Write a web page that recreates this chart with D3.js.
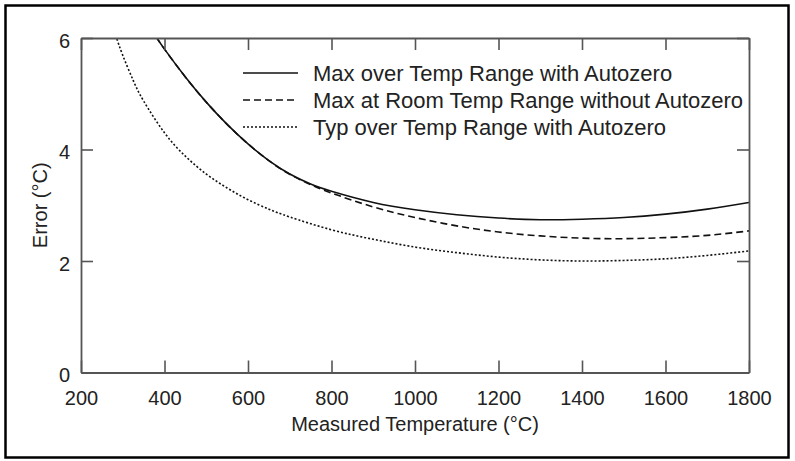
<!DOCTYPE html>
<html>
<head>
<meta charset="utf-8">
<script src="https://cdn.jsdelivr.net/npm/d3@7"></script>
<style>
  body { margin: 0; background: #fff; }
  svg { display: block; font-family: "Liberation Sans", Arial, sans-serif; }
</style>
</head>
<body>
<svg id="chart" width="795" height="461"></svg>
<script>
// temperatures (°C) and error values (°C)
const maxAutoX = [380, 400, 450, 500, 550, 600, 650, 700, 750, 800, 900, 1000, 1100, 1200, 1300, 1400, 1500, 1600, 1700, 1800]
const maxAutoY = [6.02, 5.80, 5.30, 4.85, 4.45, 4.10, 3.80, 3.56, 3.38, 3.25, 3.05, 2.92, 2.83, 2.77, 2.74, 2.75, 2.78, 2.84, 2.93, 3.05]
const maxRoomX = [380, 400, 450, 500, 550, 600, 650, 700, 750, 800, 900, 1000, 1100, 1200, 1300, 1400, 1500, 1600, 1700, 1800]
const maxRoomY = [6.02, 5.80, 5.30, 4.85, 4.45, 4.10, 3.80, 3.555, 3.37, 3.22, 2.97, 2.78, 2.63, 2.52, 2.45, 2.41, 2.40, 2.42, 2.46, 2.54]
const typAutoX = [283, 300, 325, 350, 400, 450, 500, 550, 600, 650, 700, 800, 900, 1000, 1100, 1200, 1300, 1400, 1500, 1600, 1700, 1800]
const typAutoY = [6.05, 5.69, 5.24, 4.87, 4.30, 3.88, 3.56, 3.31, 3.10, 2.93, 2.79, 2.56, 2.39, 2.25, 2.15, 2.07, 2.02, 2.00, 2.01, 2.04, 2.10, 2.18]

const xTicks = [200, 400, 600, 800, 1000, 1200, 1400, 1600, 1800]
const yTicks = [0, 2, 4, 6]

const seriesNames = [
  'Max over Temp Range with Autozero',
  'Max at Room Temp Range without Autozero',
  'Typ over Temp Range with Autozero'
]
const dashes = [null, '7,4', '2,2']

const svg = d3.select('#chart')
const plotLeft = 81, plotRight = 749, plotTop = 38, plotBottom = 372.5
const tickLen = 12

const x = d3.scaleLinear().domain([200, 1800]).range([plotLeft, plotRight])
const y = d3.scaleLinear().domain([0, 6]).range([plotBottom, plotTop])

// outer border
svg.append('rect')
    .attr('x', 5.5).attr('y', 5.5)
    .attr('width', 783).attr('height', 452)
    .attr('fill', 'none')
    .attr('stroke', '#000')
    .attr('stroke-width', 2.5)

svg.append('clipPath').attr('id', 'plotclip')
  .append('rect')
    .attr('x', plotLeft).attr('y', plotTop)
    .attr('width', plotRight - plotLeft).attr('height', plotBottom - plotTop)

const line = d3.line()
    .x(d => x(d[0]))
    .y(d => y(d[1]))
    .curve(d3.curveNatural)

const allSeries = [
  d3.zip(maxAutoX, maxAutoY),
  d3.zip(maxRoomX, maxRoomY),
  d3.zip(typAutoX, typAutoY)
]

svg.append('g')
    .attr('clip-path', 'url(#plotclip)')
  .selectAll('path.curve')
  .data(allSeries)
  .enter()
  .append('path')
    .attr('class', 'curve')
    .attr('d', line)
    .attr('fill', 'none')
    .attr('stroke', '#111')
    .attr('stroke-width', 1.6)
    .attr('stroke-dasharray', (d, i) => dashes[i])

// axes: ticks inside, mirrored on top and right
const frameColor = '#555'
const gBottom = svg.append('g').attr('transform', `translate(0,${plotBottom})`)
    .call(d3.axisBottom(x).tickValues(xTicks).tickFormat(d3.format('d'))
      .tickSizeInner(-tickLen).tickSizeOuter(0).tickPadding(18))
const gTop = svg.append('g').attr('transform', `translate(0,${plotTop})`)
    .call(d3.axisTop(x).tickValues(xTicks).tickSizeInner(-tickLen).tickSizeOuter(0).tickFormat(''))
const gLeft = svg.append('g').attr('transform', `translate(${plotLeft},0)`)
    .call(d3.axisLeft(y).tickValues(yTicks).tickFormat(d3.format('d'))
      .tickSizeInner(-tickLen).tickSizeOuter(0).tickPadding(11))
const gRight = svg.append('g').attr('transform', `translate(${plotRight},0)`)
    .call(d3.axisRight(y).tickValues(yTicks).tickSizeInner(-tickLen).tickSizeOuter(0).tickFormat(''))

;[gBottom, gTop, gLeft, gRight].forEach(g => {
  g.select('.domain').attr('stroke', frameColor).attr('stroke-width', 1.8)
  g.selectAll('.tick line').attr('stroke', frameColor).attr('stroke-width', 1.6)
  g.selectAll('.tick text')
      .attr('fill', '#222')
      .attr('font-size', 20)
      .attr('font-family', '"Liberation Sans", Arial, sans-serif')
})
gLeft.selectAll('.tick text').attr('dy', '0.45em')

// axis titles
svg.append('text')
    .attr('x', (plotLeft + plotRight) / 2)
    .attr('y', 431)
    .attr('text-anchor', 'middle')
    .attr('font-size', 20)
    .attr('fill', '#222')
    .text('Measured Temperature (°C)')

svg.append('text')
    .attr('transform', `translate(47,${(plotTop + plotBottom) / 2}) rotate(-90)`)
    .attr('text-anchor', 'middle')
    .attr('font-size', 20)
    .attr('fill', '#222')
    .text('Error (°C)')

// legend
const legend = svg.append('g')
    .attr('class', 'legend')
    .selectAll('g')
    .data(seriesNames)
    .enter()
    .append('g')
    .attr('transform', (d, i) => `translate(243,${73 + i * 27})`)

legend.append('line')
    .attr('x1', 0).attr('x2', 55)
    .attr('stroke', '#111')
    .attr('stroke-width', 1.6)
    .attr('stroke-dasharray', (d, i) => dashes[i])

legend.append('text')
    .attr('x', 70)
    .attr('dy', '0.35em')
    .attr('font-size', 22)
    .attr('fill', '#222')
    .text(d => d)
</script>
</body>
</html>
